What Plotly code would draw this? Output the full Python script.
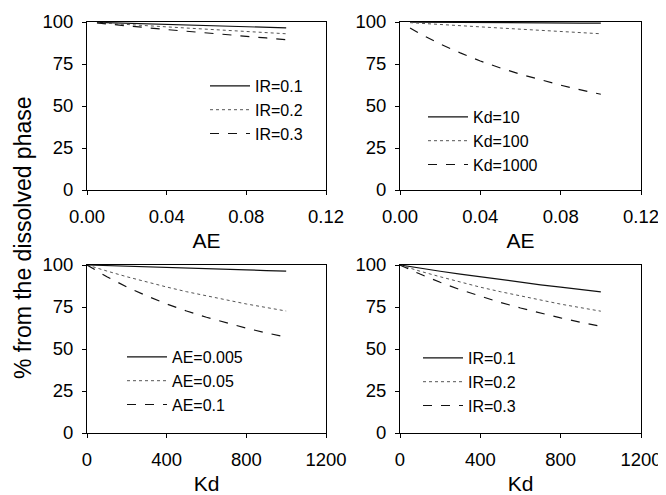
import plotly.graph_objects as go

# ---- data ----
ae_x = [0.005, 0.01, 0.02, 0.03, 0.04, 0.05, 0.06, 0.07, 0.08, 0.09, 0.1]
kd_x = [0, 10, 100, 200, 300, 400, 500, 600, 700, 800, 900, 1000]

# Panel A: % vs AE for different IR
pA_names = ["IR=0.1", "IR=0.2", "IR=0.3"]
pA_vals = [
    [99.8, 99.6, 99.3, 98.9, 98.6, 98.2, 97.9, 97.5, 97.2, 96.8, 96.5],
    [99.6, 99.3, 98.5, 97.8, 97.1, 96.4, 95.7, 95.0, 94.3, 93.6, 93.0],
    [99.4, 98.8, 97.7, 96.6, 95.5, 94.5, 93.4, 92.4, 91.4, 90.5, 89.5],
]
# Panel B: % vs AE for different Kd
pB_names = ["Kd=10", "Kd=100", "Kd=1000"]
pB_vals = [
    [99.96, 99.9, 99.8, 99.8, 99.7, 99.6, 99.5, 99.5, 99.4, 99.3, 99.3],
    [99.6, 99.3, 98.5, 97.8, 97.1, 96.4, 95.7, 95.0, 94.3, 93.6, 93.0],
    [96.4, 93.0, 86.9, 81.6, 76.8, 72.6, 68.9, 65.5, 62.4, 59.6, 57.0],
]
# Panel C: % vs Kd for different AE
pC_names = ["AE=0.005", "AE=0.05", "AE=0.1"]
pC_vals = [
    [100, 99.96, 99.6, 99.3, 98.9, 98.5, 98.2, 97.8, 97.4, 97.1, 96.7, 96.4],
    [100, 99.6, 96.4, 93.0, 89.8, 86.9, 84.1, 81.6, 79.1, 76.8, 74.7, 72.6],
    [100, 99.3, 93.0, 86.9, 81.6, 76.8, 72.6, 68.9, 65.5, 62.4, 59.6, 57.0],
]
# Panel D: % vs Kd for different IR
pD_names = ["IR=0.1", "IR=0.2", "IR=0.3"]
pD_vals = [
    [100, 99.8, 98.1, 96.3, 94.6, 92.9, 91.3, 89.7, 88.2, 86.8, 85.4, 84.0],
    [100, 99.6, 96.3, 93.0, 89.8, 86.8, 84.1, 81.5, 79.0, 76.7, 74.6, 72.5],
    [100, 99.4, 94.6, 89.7, 85.3, 81.3, 77.7, 74.4, 71.3, 68.5, 65.9, 63.5],
]

dashes = ["solid", "dot", "dash"]
widths = [1.2, 1.0, 1.2]
colors = ["#111111", "#555555", "#111111"]

# page has an 8px body margin; figure sized to fill the rest of the window
OFF = 8
W, H = 666 - OFF, 495 - OFF
FONT = "Liberation Sans, Arial, sans-serif"

fig = go.Figure()

panels = [
    (ae_x, pA_vals, pA_names, "x", "y", "legend"),
    (ae_x, pB_vals, pB_names, "x2", "y2", "legend2"),
    (kd_x, pC_vals, pC_names, "x3", "y3", "legend3"),
    (kd_x, pD_vals, pD_names, "x4", "y4", "legend4"),
]
for xs, vals, names, xa, ya, lg in panels:
    for i, (v, n) in enumerate(zip(vals, names)):
        fig.add_trace(go.Scatter(
            x=xs, y=v, name=n, mode="lines", xaxis=xa, yaxis=ya, legend=lg,
            line=dict(color=colors[i], width=widths[i], dash=dashes[i]),
        ))

def px_x(p):
    return (p - OFF) / W

def px_y(p):
    return 1 - (p - OFF) / H

xdom_l = [px_x(87), px_x(326)]
xdom_r = [px_x(400), px_x(641)]
ydom_t = [px_y(190), px_y(22)]
ydom_b = [px_y(433), px_y(265)]

axis_common = dict(
    showline=True, linecolor="black", linewidth=1, mirror=True,
    ticks="outside", ticklen=4, tickcolor="black", showgrid=False,
    zeroline=False, automargin=False,
    tickfont=dict(size=18.5, color="black", family=FONT),
)

def xax(dom, anchor, rng, dtick, fmt, title):
    d = dict(axis_common)
    d.update(domain=dom, anchor=anchor, range=rng, dtick=dtick, tick0=0,
             tickformat=fmt, ticklabelstandoff=6,
             title=dict(text=title, font=dict(size=21, color="black", family=FONT), standoff=7))
    return d

def yax(dom, anchor):
    d = dict(axis_common)
    d.update(domain=dom, anchor=anchor, range=[0, 100], dtick=25, tick0=0,
             ticklabelstandoff=5)
    return d

legend_common = dict(
    font=dict(size=16, color="black", family=FONT),
    bgcolor="rgba(0,0,0,0)", borderwidth=0, xanchor="left", yanchor="top",
    itemwidth=40, tracegroupgap=0,
)

def leg(text_x, first_row_y):
    d = dict(legend_common)
    d.update(x=px_x(text_x - 50), y=px_y(first_row_y - 17))
    return d

fig.update_layout(
    width=W, height=H,
    margin=dict(l=0, r=0, t=0, b=0),
    paper_bgcolor="white", plot_bgcolor="white",
    font=dict(family=FONT, color="black"),
    showlegend=True,
    xaxis=xax(xdom_l, "y", [0, 0.12], 0.04, ".2f", "AE"),
    yaxis=yax(ydom_t, "x"),
    xaxis2=xax(xdom_r, "y2", [0, 0.12], 0.04, ".2f", "AE"),
    yaxis2=yax(ydom_t, "x2"),
    xaxis3=xax(xdom_l, "y3", [0, 1200], 400, "d", "Kd"),
    yaxis3=yax(ydom_b, "x3"),
    xaxis4=xax(xdom_r, "y4", [0, 1200], 400, "d", "Kd"),
    yaxis4=yax(ydom_b, "x4"),
    legend=leg(255, 86),
    legend2=leg(473, 117),
    legend3=leg(172, 357),
    legend4=leg(468, 358),
    annotations=[dict(
        text="% from the dissolved phase", x=px_x(23), y=px_y(238),
        xref="paper", yref="paper", showarrow=False, textangle=-90,
        font=dict(size=23, color="black", family=FONT),
        xanchor="center", yanchor="middle",
    )],
)

fig.write_html("out.html")
